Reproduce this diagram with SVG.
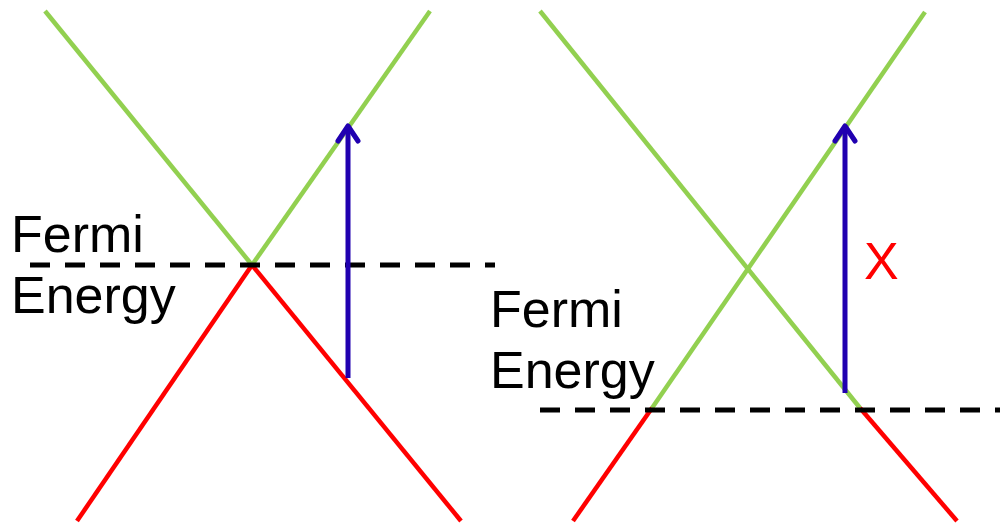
<svg xmlns="http://www.w3.org/2000/svg" width="1000" height="525" viewBox="0 0 1000 525">
<style>
.g{stroke:#92d050;stroke-width:4.5;fill:none}
.r{stroke:#ff0000;stroke-width:4.5;fill:none}
.d{stroke:#000;stroke-width:5;stroke-dasharray:20 15;fill:none}
.b{stroke:#2000b0;stroke-width:5;fill:none}
.t{font-family:"Liberation Sans",Arial,sans-serif;font-size:52px;fill:#000}
</style>
<rect width="1000" height="525" fill="#fff"/>
<g id="left-bands">
<line class="g" x1="45" y1="11" x2="252" y2="265"/>
<line class="g" x1="430" y1="11" x2="252" y2="265"/>
<line class="r" x1="252" y1="265" x2="77" y2="521"/>
<line class="r" x1="252" y1="265" x2="461" y2="521"/>
</g>
<g id="right-bands">
<line class="g" x1="540" y1="11" x2="860" y2="408"/>
<line class="g" x1="925" y1="12" x2="652" y2="408"/>
<line class="r" x1="652" y1="408" x2="573" y2="521"/>
<line class="r" x1="860" y1="408" x2="957" y2="521"/>
</g>
<g id="connectors">
<line class="d" x1="30" y1="265" x2="495" y2="265"/>
<line class="d" x1="540" y1="410" x2="1000" y2="410"/>
<line class="b" x1="348" y1="378" x2="348" y2="126"/>
<polyline class="b" points="338,141 348,126 358,141" stroke-linecap="round" stroke-linejoin="round"/>
<line class="b" x1="845" y1="393" x2="845" y2="126"/>
<polyline class="b" points="835,141 845,126 855,141" stroke-linecap="round" stroke-linejoin="round"/>
</g>
<g id="label-left">
<text class="t" x="11" y="252">Fermi</text>
<text class="t" x="11" y="313">Energy</text>
</g>
<g id="label-right">
<text class="t" x="490" y="327">Fermi</text>
<text class="t" x="490" y="388">Energy</text>
</g>
<g id="label-x">
<text x="864" y="279" font-family="Liberation Sans, Arial, sans-serif" font-size="52" fill="#ff0000">X</text>
</g>
</svg>
